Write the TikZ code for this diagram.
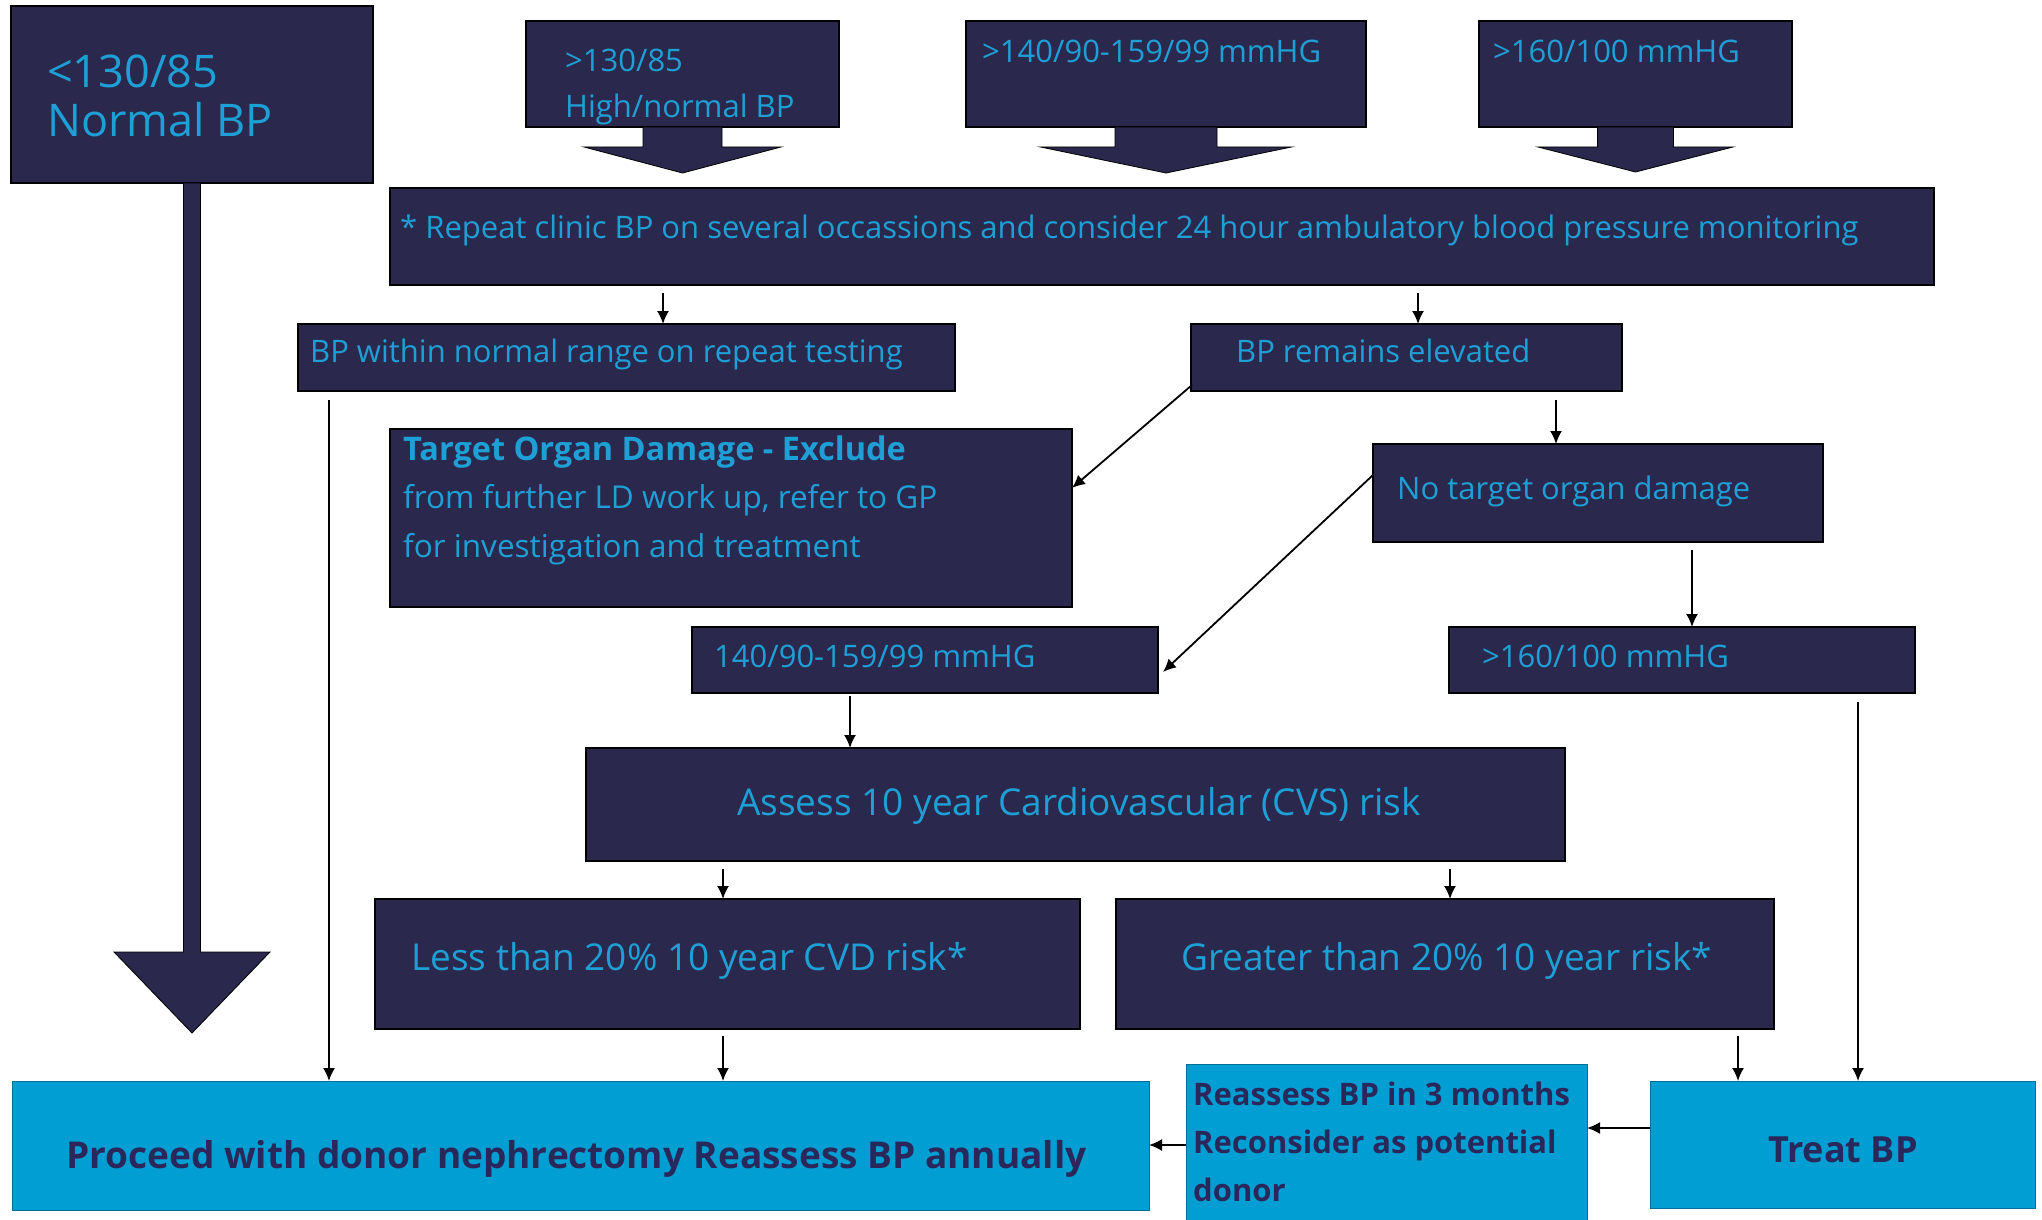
\documentclass[tikz,border=0pt]{standalone}
\usepackage{fontspec}
\setmainfont{Open Sans}
\usetikzlibrary{arrows.meta,calc}
\definecolor{navyfill}{RGB}{42,40,76}
\definecolor{cyantext}{RGB}{30,160,215}
\definecolor{lightfill}{RGB}{0,158,211}
\definecolor{lightedge}{RGB}{0,110,150}
\definecolor{darktext}{RGB}{42,40,90}
\newcommand\fsz[1]{\fontsize{#1}{#1}\selectfont}
\newcommand\mkbox[6]{\node[#1,anchor=north west,minimum width={#5-#3},minimum height={#6-#4}] (#2) at (#3,#4) {};}
\newcommand\blockarrow[5]{\filldraw[blockarr] (#1.south) +(-#2,0) -- +(-#2,#3) -- +(-#4,#3) -- +(0,#3+#5) -- +(#4,#3) -- +(#2,#3) -- +(#2,0) -- cycle;}
\begin{document}
\begin{tikzpicture}[x=1pt,y=-1pt,
  navybox/.style={draw=black,line width=1.5pt,fill=navyfill,inner sep=0pt,outer sep=0pt},
  lightbox/.style={draw=lightedge,line width=1pt,fill=lightfill,inner sep=0pt,outer sep=0pt},
  blockarr/.style={fill=navyfill,draw=black,line width=0.8pt},
  txt/.style={text=cyantext,inner sep=0pt,anchor=base west,font=\fsz{31}},
  bigtxt/.style={text=cyantext,inner sep=0pt,anchor=base west,font=\fsz{37}},
  darktxt/.style={text=darktext,inner sep=0pt,anchor=base west,font=\bfseries\fsz{31}},
  arr/.style={-{Latex[length=13pt,width=12pt]},line width=1.8pt,black}]
\useasboundingbox (0,0) rectangle (2042,1220);
\clip (0,0) rectangle (2042,1220);

% boxes
\mkbox{navybox}{normal}{11}{6}{373}{183}
\mkbox{navybox}{hn}{526}{21}{839}{127}
\mkbox{navybox}{rtop}{966}{21}{1366}{127}
\mkbox{navybox}{rtopb}{1479}{21}{1792}{127}
% block arrows
\blockarrow{normal}{8.5}{769}{78}{81}
\blockarrow{hn}{39.5}{20}{98.5}{26}
\blockarrow{rtop}{51}{20}{125.5}{26}
\blockarrow{rtopb}{38}{20}{97.5}{25}
\mkbox{navybox}{repeat}{390}{188}{1934}{285}
\mkbox{navybox}{within}{298}{324}{955}{391}
\mkbox{navybox}{elevated}{1191}{324}{1622}{391}
\mkbox{navybox}{tod}{390}{429}{1072}{607}
\mkbox{navybox}{notod}{1373}{444}{1823}{542}
\mkbox{navybox}{mid}{692}{627}{1158}{693}
\mkbox{navybox}{high}{1449}{627}{1915}{693}
\mkbox{navybox}{assess}{586}{748}{1565}{861}
\mkbox{navybox}{less}{375}{899}{1080}{1029}
\mkbox{navybox}{greater}{1116}{899}{1774}{1029}
\mkbox{lightbox}{proceed}{12}{1081}{1149}{1210}
\mkbox{lightbox}{reassess}{1186}{1064}{1587}{1226}
\mkbox{lightbox}{treat}{1650}{1081}{2035}{1208}

% texts
\node[txt,font=\fsz{45}] (normal-t1) at (47,88) {<130/85};
\node[txt,font=\fsz{45}] (normal-t2) at (47,137) {Normal BP};
\node[txt] (hn-t1) at (565,72) {>130/85};
\node[txt] (hn-t2) at (565,118) {High/normal BP};
\node[txt] (rtop-t) at (982,63) {>140/90-159/99 mmHG};
\node[txt] (rtopb-t) at (1493,63) {>160/100 mmHG};
\node[txt] (repeat-t) at (400,238) {* Repeat clinic BP on several occassions and consider 24 hour ambulatory blood pressure monitoring};
\node[txt] (within-t) at (310,362) {BP within normal range on repeat testing};
\node[txt] (elevated-t) at (1236,362) {BP remains elevated};
\node[txt,font=\bfseries\fsz{32.5}] (tod-t1) at (403,460) {Target Organ Damage - Exclude};
\node[txt,font=\fsz{31.5}] (tod-t2) at (403,508) {from further LD work up, refer to GP};
\node[txt,font=\fsz{31.5}] (tod-t3) at (403,557) {for investigation and treatment};
\node[txt] (notod-t) at (1397,499) {No target organ damage};
\node[txt] (mid-t) at (714,667) {140/90-159/99 mmHG};
\node[txt] (high-t) at (1482,667) {>160/100 mmHG};
\node[bigtxt] (assess-t) at (737,815) {Assess 10 year Cardiovascular (CVS) risk};
\node[bigtxt] (less-t) at (411,970) {Less than 20\% 10 year CVD risk*};
\node[bigtxt] (greater-t) at (1181,970) {Greater than 20\% 10 year risk*};
\node[darktxt,font=\bfseries\fsz{37}] (proceed-t) at (66,1168) {Proceed with donor nephrectomy Reassess BP annually};
\node[darktxt] (reassess-t1) at (1193,1105) {Reassess BP in 3 months};
\node[darktxt] (reassess-t2) at (1193,1153) {Reconsider as potential};
\node[darktxt] (reassess-t3) at (1193,1201) {donor};
\node[darktxt,font=\bfseries\fsz{36}] (treat-t) at (1768,1162) {Treat BP};

% connector x / y positions
\coordinate (ka) at (663,0);
\coordinate (kb) at (1418,0);
\coordinate (kc) at (329,0);
\coordinate (kd) at (1556,0);
\coordinate (ke) at (1692,0);
\coordinate (kf) at (850,0);
\coordinate (kg) at (723,0);
\coordinate (kh) at (1450,0);
\coordinate (ki) at (1738,0);
\coordinate (kj) at (1858,0);
\coordinate (kk) at (0,1128);
\coordinate (kl) at (0,1145);

% connectors
\draw[arr] ($(repeat.south -| ka)+(0,8)$) -- (within.north -| ka);
\draw[arr] ($(repeat.south -| kb)+(0,8)$) -- (elevated.north -| kb);
\draw[arr] ($(within.south -| kc)+(0,9)$) -- (proceed.north -| kc);
\draw[arr] ($(elevated.south west)+(1,-6)$) -- ($(tod.east)+(0,-30)$);
\draw[arr] ($(elevated.south -| kd)+(0,9)$) -- (notod.north -| kd);
\draw[arr] ($(notod.west)+(0,-18)$) -- ($(mid.east)+(5,12)$);
\draw[arr] ($(notod.south -| ke)+(0,8)$) -- (high.north -| ke);
\draw[arr] ($(mid.south -| kf)+(0,3)$) -- (assess.north -| kf);
\draw[arr] ($(assess.south -| kg)+(0,8)$) -- (less.north -| kg);
\draw[arr] ($(assess.south -| kh)+(0,8)$) -- (greater.north -| kh);
\draw[arr] ($(less.south -| kg)+(0,7)$) -- (proceed.north -| kg);
\draw[arr] ($(greater.south -| ki)+(0,7)$) -- (treat.north -| ki);
\draw[arr] ($(high.south -| kj)+(0,9)$) -- (treat.north -| kj);
\draw[arr] (treat.west |- kk) -- (reassess.east |- kk);
\draw[arr] (reassess.west |- kl) -- (proceed.east |- kl);
\end{tikzpicture}
\end{document}
